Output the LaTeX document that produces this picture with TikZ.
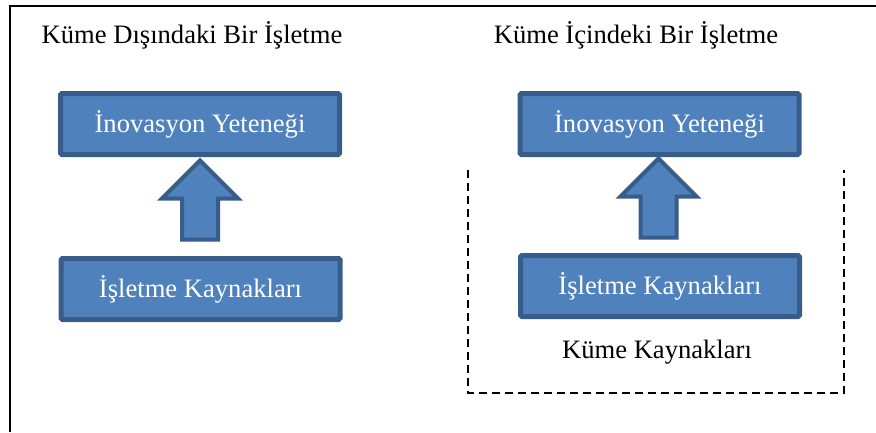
\documentclass[tikz,border=0pt]{standalone}
\usepackage{fontspec}
\setmainfont{Liberation Serif}
\usetikzlibrary{calc}
\definecolor{boxfill}{HTML}{4F81BD}
\definecolor{boxline}{HTML}{385D8A}
\begin{document}
\begin{tikzpicture}[x=1pt,y=-1pt,
  txt/.style={inner sep=0pt,font=\fontsize{26.6}{30}\selectfont},
  bluebox/.style={draw=boxline,fill=boxfill,line width=5pt,rounded corners=1.5pt,
    minimum width=279pt,minimum height=61pt,inner sep=0pt,outer sep=0pt,
    text=white,font=\fontsize{26.6}{30}\selectfont},
  blockarrow/.style={draw=boxline,fill=boxfill,line width=4pt,line join=miter},
  clusterline/.style={draw=black,line width=2pt,dash pattern=on 8pt off 5pt}]
\useasboundingbox (0,0) rectangle (876,432);
\clip (0,0) rectangle (876,432);

% frame (left and top edges)
\draw[line width=2pt] (10,432) -- (10,6) -- (876,6);

% column titles
\node[txt,anchor=base] (tleft) at (192,43) {Küme Dışındaki Bir İşletme};
\node[txt,anchor=base] (tright) at (636,43) {Küme İçindeki Bir İşletme};

% cluster resources region (open at the top)
\coordinate (ctl) at (468,170);
\coordinate (cbl) at (468,393);
\coordinate (cbr) at (844,393);
\coordinate (ctr) at (844,170);
\draw[clusterline] (ctl) -- (cbl) -- (cbr) -- (ctr);

% boxes
\node[bluebox] (lt) at (200,124) {İnovasyon Yeteneği};
\node[bluebox] (lb) at (200.5,289) {İşletme Kaynakları};
\node[bluebox] (rt) at (659.5,124) {İnovasyon Yeteneği};
\node[bluebox] (rb) at (660,286) {İşletme Kaynakları};

\node[txt,anchor=base] (kk) at (657,358) {Küme Kaynakları};

% block arrows from resources to capability
\path (lt.south) ++(0,6) coordinate (la);
\draw[blockarrow] (la) -- ++(38,38) -- ++(-20,0) -- ++(0,41) -- ++(-36,0)
  -- ++(0,-41) -- ++(-20,0) -- cycle;
\path (rt.south) ++(-1,4) coordinate (ra);
\draw[blockarrow] (ra) -- ++(38,38) -- ++(-20,0) -- ++(0,41) -- ++(-36,0)
  -- ++(0,-41) -- ++(-20,0) -- cycle;
\end{tikzpicture}
\end{document}
